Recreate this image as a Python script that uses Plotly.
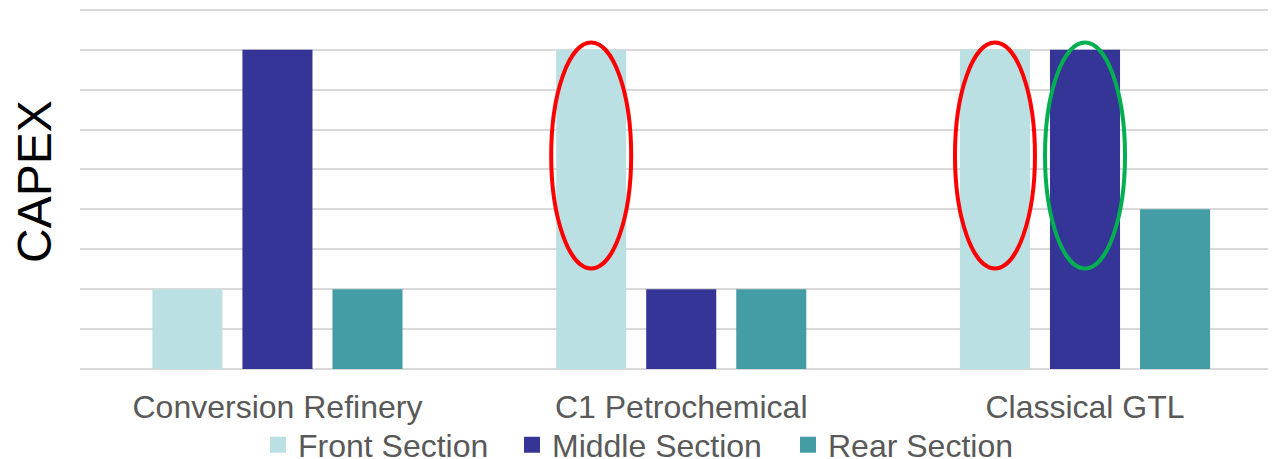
import plotly.graph_objects as go

categories = ["Conversion Refinery", "C1 Petrochemical", "Classical GTL"]
series_names = ["Front Section", "Middle Section", "Rear Section"]
front_vals = [2, 8, 8]
middle_vals = [8, 2, 8]
rear_vals = [2, 2, 4]
colors = ["#bbe0e3", "#353598", "#449ca4"]
y_title = "CAPEX"

# highlight ellipses: (category index, series index, colour)
highlights = [(1, 0, "#ff0000"), (2, 0, "#ff0000"), (2, 1, "#00b050")]

# the page body adds an 8px offset; the figure is sized to fill the rest of the window
OFF = 8
W, H = 1276 - OFF, 459 - OFF
ML, MR, MT, MB = 72, 0, 0, 90
x_range = [-0.489, 2.473]
y_range = [0, 9.045]
bargap = 0.331
bargroupgap = 0.222

FONT = "Liberation Sans, Arial, sans-serif"
TXT = "#595959"
PW = W - ML - MR
PH = H - MT - MB

fig = go.Figure()
legends = ["legend", "legend2", "legend3"]
for name, vals, col, lg in zip(series_names, [front_vals, middle_vals, rear_vals], colors, legends):
    fig.add_trace(go.Bar(x=categories, y=vals, name=name, marker_color=col,
                         marker_line_width=0, legendgroup=name, showlegend=False))
    # legend entry with a larger square swatch, as in the reference
    fig.add_trace(go.Scatter(x=[None], y=[None], mode="markers", name=name, legendgroup=name,
                             marker=dict(symbol="square", size=16, color=col), legend=lg))

# ellipse positions derived from bar layout
slot = (1 - bargap) / 3
half_w = 40 / (PW / (x_range[1] - x_range[0]))
for ci, si, col in highlights:
    xc = ci + (si - 1) * slot
    fig.add_shape(type="circle", xref="x", yref="y",
                  x0=xc - half_w, x1=xc + half_w, y0=2.52, y1=8.18,
                  line=dict(color=col, width=4), fillcolor="rgba(0,0,0,0)")

fig.add_annotation(text=y_title, textangle=-90, xref="paper", yref="paper",
                   x=(35 - OFF - ML) / PW, y=(H - MB - (182 - OFF)) / PH,
                   xanchor="center", yanchor="middle",
                   showarrow=False, font=dict(family=FONT, size=48, color="black"))

legend_y = -((445 - OFF) - (H - MB)) / PH
legend_common = dict(orientation="h", yanchor="middle", y=legend_y, xanchor="left",
                     font=dict(family=FONT, size=32, color=TXT),
                     bgcolor="rgba(0,0,0,0)", itemclick=False, itemdoubleclick=False)

fig.update_layout(
    width=W, height=H,
    margin=dict(l=ML, r=MR, t=MT, b=MB, autoexpand=False),
    plot_bgcolor="white", paper_bgcolor="white",
    barmode="group", bargap=bargap, bargroupgap=bargroupgap,
    showlegend=True,
    legend=dict(x=(258 - OFF - ML) / PW, **legend_common),
    legend2=dict(x=(512 - OFF - ML) / PW, **legend_common),
    legend3=dict(x=(788 - OFF - ML) / PW, **legend_common),
    xaxis=dict(range=x_range, showgrid=False, showline=False, ticks="", automargin=False,
               tickfont=dict(family=FONT, size=32, color=TXT), ticklabelstandoff=16),
    yaxis=dict(range=y_range, dtick=1, showgrid=True, gridcolor="#d9d9d9", gridwidth=2,
               showticklabels=False, automargin=False,
               zeroline=True, zerolinecolor="#d9d9d9", zerolinewidth=2),
)

fig.write_html("out.html")
